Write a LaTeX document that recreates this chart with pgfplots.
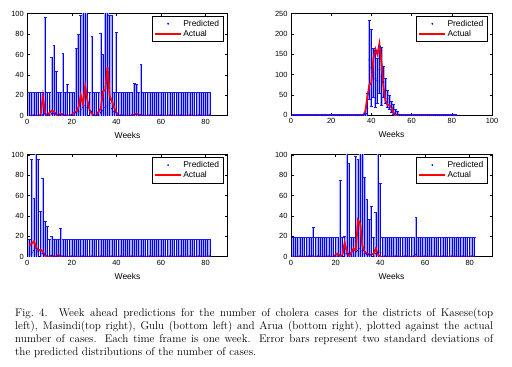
\documentclass[border=0pt]{standalone}
\usepackage{fontspec}
\setsansfont{Liberation Sans}
\usepackage{pgfplots}
\usepackage{pgfplotstable}
\pgfplotsset{compat=1.18}

% columns: week, predicted, error (2 sd), actual
\pgfplotstableread[row sep=\\]{
w p e a \\
1 0.5 22.5 0 \\ 2 0.5 22.5 0 \\ 3 0.5 22.5 0 \\ 4 0.5 22.5 0 \\ 5 0.5 22.5 0 \\
6 0.5 22.5 1 \\ 7 0.5 22.5 19 \\ 8 2 94 2 \\ 9 0.5 22.5 0 \\ 10 0.5 22.5 3 \\
11 2 55 5 \\ 12 2 67 4 \\ 13 2 41 1 \\ 14 0.5 22.5 0 \\ 15 0.5 22.5 2 \\
16 1 60 1 \\ 17 0.5 22.5 0 \\ 18 1 30 0 \\ 19 0.5 22.5 0 \\ 20 0.5 22.5 1 \\
21 0.5 22.5 3 \\ 22 3 63 4 \\ 23 4 76 8 \\ 24 6 92 20 \\ 25 8 122 11 \\
26 10 120 29 \\ 27 8 122 15 \\ 28 5 18 5 \\ 29 4 74 2 \\ 30 0.5 22.5 0 \\
31 0.5 22.5 0 \\ 32 0.5 22.5 4 \\ 33 3 78 7 \\ 34 5 55 24 \\ 35 8 122 25 \\
36 10 120 48 \\ 37 12 86 19 \\ 38 7 91 14 \\ 39 4 19 8 \\ 40 3 79 3 \\
41 0.5 22.5 0 \\ 42 0.5 22.5 0 \\ 43 0.5 22.5 0 \\ 44 0.5 22.5 0 \\ 45 0.5 22.5 0 \\
46 0.5 22.5 0 \\ 47 0.5 22.5 0 \\ 48 1 31 1 \\ 49 1 30 2 \\ 50 0.5 22.5 1 \\
51 1 49 0 \\ 52 0.5 22.5 0 \\ 53 0.5 22.5 0 \\ 54 0.5 22.5 0 \\ 55 0.5 22.5 0 \\
56 0.5 22.5 0 \\ 57 0.5 22.5 0 \\ 58 0.5 22.5 0 \\ 59 0.5 22.5 0 \\ 60 0.5 22.5 0 \\
61 0.5 22.5 0 \\ 62 0.5 22.5 0 \\ 63 0.5 22.5 0 \\ 64 0.5 22.5 0 \\ 65 0.5 22.5 0 \\
66 0.5 22.5 0 \\ 67 0.5 22.5 0 \\ 68 0.5 22.5 0 \\ 69 0.5 22.5 0 \\ 70 0.5 22.5 0 \\
71 0.5 22.5 0 \\ 72 0.5 22.5 0 \\ 73 0.5 22.5 0 \\ 74 0.5 22.5 0 \\ 75 0.5 22.5 0 \\
76 0.5 22.5 0 \\ 77 0.5 22.5 0 \\ 78 0.5 22.5 0 \\ 79 0.5 22.5 0 \\ 80 0.5 22.5 0 \\
81 0.5 22.5 0 \\ 82 0.5 22.5 0 \\
}\kasese

\pgfplotstableread[row sep=\\]{
w p e a \\
1 0.5 1.5 0 \\ 2 0.5 1.5 0 \\ 3 0.5 1.5 0 \\ 4 0.5 1.5 0 \\ 5 0.5 1.5 0 \\
6 0.5 1.5 0 \\ 7 0.5 1.5 0 \\ 8 0.5 1.5 0 \\ 9 0.5 1.5 0 \\ 10 0.5 1.5 0 \\
11 0.5 1.5 0 \\ 12 0.5 1.5 0 \\ 13 0.5 1.5 0 \\ 14 0.5 1.5 0 \\ 15 0.5 1.5 0 \\
16 0.5 1.5 0 \\ 17 0.5 1.5 0 \\ 18 0.5 1.5 0 \\ 19 0.5 1.5 0 \\ 20 0.5 1.5 0 \\
21 0.5 1.5 0 \\ 22 0.5 1.5 0 \\ 23 0.5 1.5 0 \\ 24 0.5 1.5 0 \\ 25 0.5 1.5 0 \\
26 0.5 1.5 0 \\ 27 0.5 1.5 0 \\ 28 0.5 1.5 0 \\ 29 0.5 1.5 0 \\ 30 0.5 1.5 0 \\
31 0.5 1.5 0 \\ 32 0.5 1.5 0 \\ 33 0.5 1.5 0 \\ 34 0.5 1.5 0 \\ 35 0.5 1.5 0 \\
36 0.5 1.5 0 \\ 37 1 4 10 \\ 38 17 37 45 \\ 39 136 98 75 \\ 40 117 95 80 \\
41 105 60 140 \\ 42 90 70 163 \\ 43 85 55 150 \\ 44 112 57 176 \\ 45 96 72 130 \\
46 82 38 70 \\ 47 60 30 36 \\ 48 41 21 26 \\ 49 32 18 24 \\ 50 21 14 20 \\
51 15 12 6 \\ 52 5 10 0 \\ 53 2 7 0 \\ 54 0.5 1.5 0 \\ 55 0.5 1.5 0 \\
56 0.5 1.5 0 \\ 57 0.5 1.5 0 \\ 58 0.5 1.5 0 \\ 59 0.5 1.5 0 \\ 60 0.5 1.5 0 \\
61 0.5 1.5 0 \\ 62 0.5 1.5 0 \\ 63 0.5 1.5 0 \\ 64 0.5 1.5 0 \\ 65 0.5 1.5 0 \\
66 0.5 1.5 0 \\ 67 0.5 1.5 0 \\ 68 0.5 1.5 0 \\ 69 0.5 1.5 0 \\ 70 0.5 1.5 0 \\
71 0.5 1.5 0 \\ 72 0.5 1.5 0 \\ 73 0.5 1.5 0 \\ 74 0.5 1.5 0 \\ 75 0.5 1.5 0 \\
76 0.5 1.5 0 \\ 77 0.5 1.5 0 \\ 78 0.5 1.5 0 \\ 79 0.5 1.5 0 \\ 80 0.5 1.5 0 \\
81 0.5 1.5 0 \\ 82 0.5 1.5 0 \\
}\masindi

\pgfplotstableread[row sep=\\]{
w p e a \\
1 2 15 11 \\ 2 4 92 13 \\ 3 6 51 15 \\ 4 8 122 9 \\ 5 5 91 6 \\
6 3 42 7 \\ 7 3 74 5 \\ 8 2 33 1 \\ 9 1 29 0 \\ 10 1 16 0 \\
11 1 19 1 \\ 12 0.5 16.5 0 \\ 13 0.5 16.5 0 \\ 14 0.5 16.5 2 \\ 15 1 27 0 \\
16 0.5 16.5 0 \\ 17 0.5 16.5 0 \\ 18 0.5 16.5 0 \\ 19 0.5 16.5 0 \\ 20 0.5 16.5 0 \\
21 0.5 16.5 0 \\ 22 0.5 16.5 0 \\ 23 0.5 16.5 0 \\ 24 0.5 16.5 0 \\ 25 0.5 16.5 0 \\
26 0.5 16.5 0 \\ 27 0.5 16.5 0 \\ 28 0.5 16.5 0 \\ 29 0.5 16.5 0 \\ 30 0.5 16.5 0 \\
31 0.5 16.5 0 \\ 32 0.5 16.5 0 \\ 33 0.5 16.5 0 \\ 34 0.5 16.5 0 \\ 35 0.5 16.5 0 \\
36 0.5 16.5 0 \\ 37 0.5 16.5 0 \\ 38 0.5 16.5 0 \\ 39 0.5 16.5 0 \\ 40 0.5 16.5 0 \\
41 0.5 16.5 0 \\ 42 0.5 16.5 0 \\ 43 0.5 16.5 0 \\ 44 0.5 16.5 0 \\ 45 0.5 16.5 0 \\
46 0.5 16.5 0 \\ 47 0.5 16.5 0 \\ 48 0.5 16.5 0 \\ 49 0.5 16.5 0 \\ 50 0.5 16.5 0 \\
51 0.5 16.5 0 \\ 52 0.5 16.5 0 \\ 53 0.5 16.5 0 \\ 54 0.5 16.5 0 \\ 55 0.5 16.5 0 \\
56 0.5 16.5 0 \\ 57 0.5 16.5 0 \\ 58 0.5 16.5 0 \\ 59 0.5 16.5 0 \\ 60 0.5 16.5 0 \\
61 0.5 16.5 0 \\ 62 0.5 16.5 0 \\ 63 0.5 16.5 0 \\ 64 0.5 16.5 0 \\ 65 0.5 16.5 0 \\
66 0.5 16.5 0 \\ 67 0.5 16.5 0 \\ 68 0.5 16.5 0 \\ 69 0.5 16.5 0 \\ 70 0.5 16.5 0 \\
71 0.5 16.5 0 \\ 72 0.5 16.5 0 \\ 73 0.5 16.5 0 \\ 74 0.5 16.5 0 \\ 75 0.5 16.5 0 \\
76 0.5 16.5 0 \\ 77 0.5 16.5 0 \\ 78 0.5 16.5 0 \\ 79 0.5 16.5 0 \\ 80 0.5 16.5 0 \\
81 0.5 16.5 0 \\ 82 0.5 16.5 0 \\
}\gulu

\pgfplotstableread[row sep=\\]{
w p e a \\
1 0.5 18.5 0 \\ 2 0.5 18.5 0 \\ 3 0.5 18.5 0 \\ 4 0.5 18.5 0 \\ 5 0.5 18.5 0 \\
6 0.5 18.5 0 \\ 7 0.5 18.5 0 \\ 8 0.5 18.5 0 \\ 9 0.5 18.5 0 \\ 10 1 28 0 \\
11 0.5 18.5 0 \\ 12 0.5 18.5 0 \\ 13 0.5 18.5 0 \\ 14 0.5 18.5 0 \\ 15 0.5 18.5 0 \\
16 0.5 18.5 0 \\ 17 0.5 18.5 0 \\ 18 0.5 18.5 0 \\ 19 0.5 18.5 0 \\ 20 0.5 18.5 2 \\
21 0.5 18.5 3 \\ 22 2 73 0 \\ 23 0.5 18.5 1 \\ 24 3 17 14 \\ 25 3 127 5 \\
26 3 89 1 \\ 27 0.5 18.5 4 \\ 28 0.5 18.5 8 \\ 29 5 94 6 \\ 30 6 90 36 \\
31 8 122 32 \\ 32 6 124 10 \\ 33 3 75 5 \\ 34 2 54 3 \\ 35 2 35 2 \\
36 2 47 2 \\ 37 0.5 18.5 3 \\ 38 3 41 8 \\ 39 4 126 2 \\ 40 4 68 0 \\
41 0.5 18.5 0 \\ 42 0.5 18.5 0 \\ 43 0.5 18.5 0 \\ 44 0.5 18.5 0 \\ 45 0.5 18.5 0 \\
46 0.5 18.5 0 \\ 47 0.5 18.5 0 \\ 48 0.5 18.5 0 \\ 49 0.5 18.5 0 \\ 50 0.5 18.5 0 \\
51 0.5 18.5 0 \\ 52 0.5 18.5 0 \\ 53 0.5 18.5 0 \\ 54 0.5 18.5 0 \\ 55 0.5 18.5 0 \\
56 2 37 0 \\ 57 0.5 18.5 0 \\ 58 0.5 18.5 0 \\ 59 0.5 18.5 0 \\ 60 0.5 18.5 0 \\
61 0.5 18.5 0 \\ 62 0.5 18.5 0 \\ 63 0.5 18.5 0 \\ 64 0.5 18.5 0 \\ 65 0.5 18.5 0 \\
66 0.5 18.5 0 \\ 67 0.5 18.5 0 \\ 68 0.5 18.5 0 \\ 69 0.5 18.5 0 \\ 70 0.5 18.5 0 \\
71 0.5 18.5 0 \\ 72 0.5 18.5 0 \\ 73 0.5 18.5 0 \\ 74 0.5 18.5 0 \\ 75 0.5 18.5 0 \\
76 0.5 18.5 0 \\ 77 0.5 18.5 0 \\ 78 0.5 18.5 0 \\ 79 0.5 18.5 0 \\ 80 0.5 18.5 0 \\
81 0.5 18.5 0 \\ 82 0.5 18.5 0 \\
}\arua

\definecolor{haloblue}{rgb}{0.68,0.68,1}
\definecolor{capblue}{rgb}{0.1,0.1,1}
\pgfplotsset{
  mat/.style={
    scale only axis, width=200.5bp, height=102bp,
    axis line style={black, line width=1bp},
    every tick/.style={black, line width=0.5bp},
    major tick length=2.5bp, tick align=inside,
    xmin=0, xmax=90, ymin=0, ymax=100,
    xtick={0,20,40,60,80}, ytick={0,20,40,60,80,100},
    ticklabel style={font=\sffamily\fontsize{7.5}{8}\selectfont},
    /pgf/number format/assume math mode=true,
    xticklabel style={anchor=base, yshift=-8.7bp},
    yticklabel style={anchor=east, xshift=0bp},
    xlabel={Weeks},
    xlabel style={font=\sffamily\fontsize{8.5}{9}\selectfont, at={(axis description cs:0.5,0)}, anchor=center, yshift=-19.3bp},
    legend style={at={(1,1)}, anchor=north east, xshift=-4.7bp, yshift=-2.3bp,
      font=\sffamily\fontsize{8.5}{9}\selectfont,
      inner xsep=2.5bp, inner ysep=2.5bp, nodes={inner sep=1.3bp}, legend cell align=left},
    legend image code/.code={\draw[mark repeat=2,mark phase=2,#1] plot coordinates {(0bp,0bp)(13bp,0bp)(26bp,0bp)};},
  },
  halo/.style={only marks, mark=*, mark size=0pt, forget plot,
    mark options={draw=none, fill=none, opacity=0},
    error bars/.cd, y dir=both, y explicit, error mark=none,
    error bar style={draw=haloblue, line width=2.1bp, opacity=1}},
  pred/.style={color=blue, only marks, mark=*, mark size=0.6bp, line width=0.5bp,
    mark options={draw=blue, fill=blue},
    error bars/.cd, y dir=both, y explicit, error mark=none,
    error bar style={draw=blue, line width=0.6bp}},
  caps/.style={only marks, mark=-, mark size=1.4bp, forget plot,
    mark options={draw=capblue, line width=0.8bp}},
  act/.style={red, line width=1.8bp, mark=none},
}

\begin{document}
\begin{tikzpicture}
\useasboundingbox (0,0) rectangle (512bp,367bp);

\begin{axis}[mat, at={(27.3bp,251.3bp)}, anchor=south west]
\addplot[halo] table[x=w, y=p, y error=e] {\kasese};
\addplot[pred] table[x=w, y=p, y error=e] {\kasese};
\addlegendentry{Predicted}
\addplot[caps] table[x=w, y expr=\thisrow{p}+\thisrow{e}] {\kasese};
\addplot[act] table[x=w, y=a] {\kasese};
\addlegendentry{Actual}
\end{axis}

\begin{axis}[mat, at={(291bp,251.7bp)}, anchor=south west, width=201bp, height=101.6bp,
  xmax=100, xtick={0,20,40,60,80,100}, ymax=250, ytick={0,50,100,150,200,250}]
\addplot[halo] table[x=w, y=p, y error=e] {\masindi};
\addplot[pred] table[x=w, y=p, y error=e] {\masindi};
\addlegendentry{Predicted}
\addplot[caps] table[x=w, y expr=\thisrow{p}+\thisrow{e}] {\masindi};
\addplot[caps] table[x=w, y expr=\thisrow{p}-\thisrow{e}] {\masindi};
\addplot[act] table[x=w, y=a] {\masindi};
\addlegendentry{Actual}
\end{axis}

\begin{axis}[mat, at={(27.3bp,110.3bp)}, anchor=south west, height=101.7bp]
\addplot[halo] table[x=w, y=p, y error=e] {\gulu};
\addplot[pred] table[x=w, y=p, y error=e] {\gulu};
\addlegendentry{Predicted}
\addplot[caps] table[x=w, y expr=\thisrow{p}+\thisrow{e}] {\gulu};
\addplot[act] table[x=w, y=a] {\gulu};
\addlegendentry{Actual}
\end{axis}

\begin{axis}[mat, at={(291bp,110.3bp)}, anchor=south west, width=201bp, height=101.7bp]
\addplot[halo] table[x=w, y=p, y error=e] {\arua};
\addplot[pred] table[x=w, y=p, y error=e] {\arua};
\addlegendentry{Predicted}
\addplot[caps] table[x=w, y expr=\thisrow{p}+\thisrow{e}] {\arua};
\addplot[act] table[x=w, y=a] {\arua};
\addlegendentry{Actual}
\end{axis}

\node[anchor=north west, inner sep=0pt, text width=478bp, align=justify,
  font=\fontsize{11.2}{13.3}\selectfont] at (15bp,59.5bp)
{Fig.~4.\quad Week ahead predictions for the number of cholera cases for the districts of Kasese(top\linebreak
left), Masindi(top right), Gulu (bottom left) and Arua (bottom right), plotted against the actual\linebreak
number of cases. Each time frame is one week. Error bars represent two standard deviations of\linebreak
the predicted distributions of the number of cases.};
\end{tikzpicture}
\end{document}
